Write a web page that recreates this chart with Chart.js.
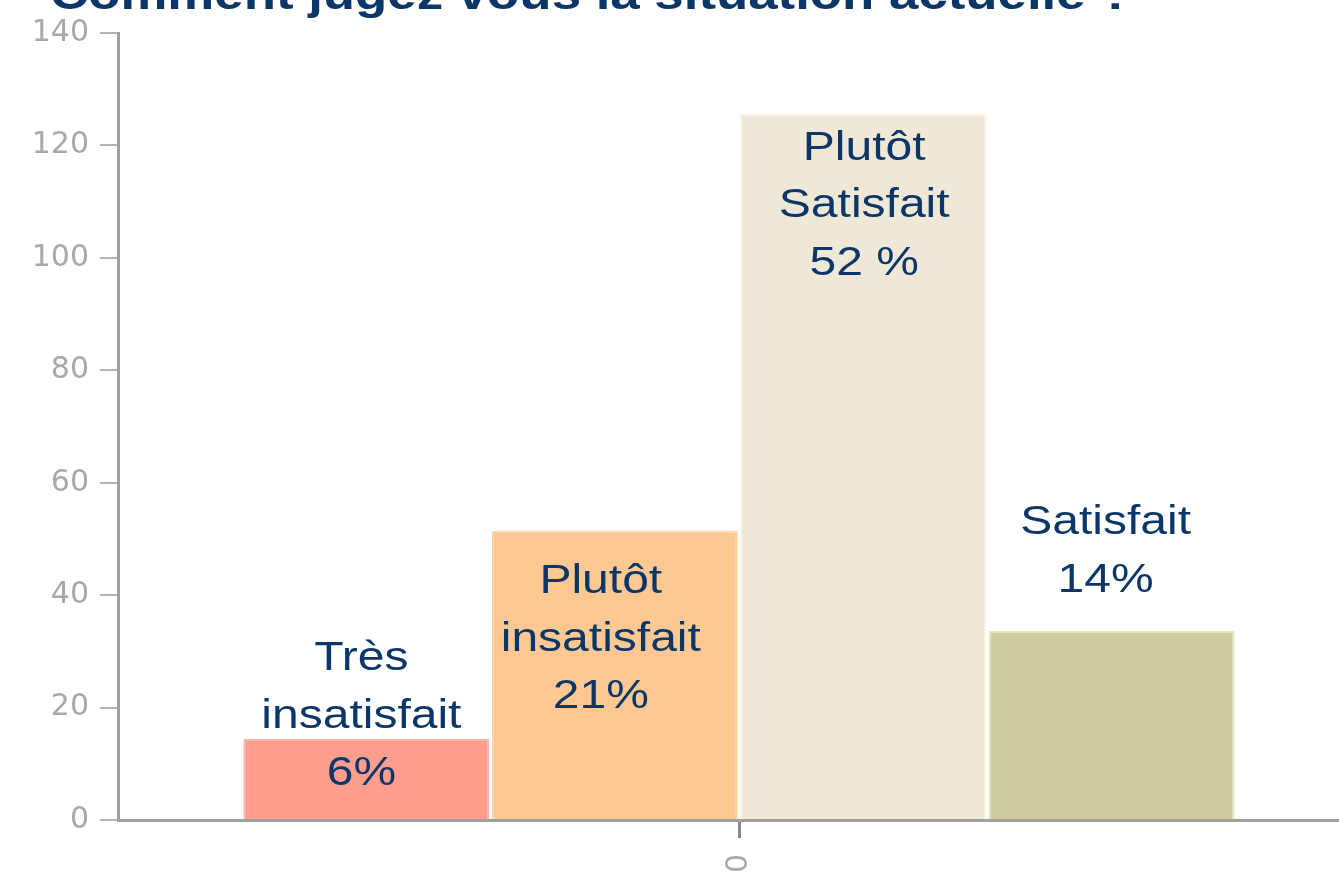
<!DOCTYPE html>
<html>
<head>
<meta charset="utf-8">
<script src="https://cdn.jsdelivr.net/npm/chart.js@4.4.1/dist/chart.umd.min.js"></script>
<style>
html, body { margin: 0; padding: 0; background: #ffffff; overflow: hidden; }
#wrap { position: absolute; left: 0; top: 0; width: 1360px; height: 873px; }
</style>
</head>
<body>
<div id="wrap"><canvas id="myChart"></canvas></div>
<script>
const chartTitle = "Comment jugez vous la situation actuelle ?";
const categories = ["0"];
const seriesNames = ["Très insatisfait", "Plutôt insatisfait", "Plutôt Satisfait", "Satisfait"];
const seriesValues = [14.4, 51.4, 125.6, 33.6];
const barTexts = [
    ["Très", "insatisfait", "6%"],
    ["Plutôt", "insatisfait", "21%"],
    ["Plutôt", "Satisfait", "52 %"],
    ["Satisfait", "14%"]
];
const yMax = 140;
const yStep = 20;

const fills = ["#ff9e8c", "#fec893", "#f0e8d7", "#cfcda0"];
const edges = ["#ffb4a4", "#ffd3a6", "#fbf4e3", "#e6e6bd"];
// text block position relative to bar centre / bar top (px)
const textShiftX = [-5, -14, 1, -6];
const textOffsets = [-80, 51, 35, -108];
const navy = "#0b3768";

/* ---------- plugins ---------- */

const titlePlugin = {
    id: "stretchedTitle",
    afterDraw(chart) {
        const c = chart.ctx;
        c.save();
        c.translate(50, 9);
        c.scale(1.2, 1);
        c.fillStyle = navy;
        c.font = "bold 44px 'Liberation Sans', Arial, sans-serif";
        c.textAlign = "left";
        c.textBaseline = "alphabetic";
        c.fillText(chartTitle, 0, 0);
        c.restore();
    }
};

const barTextPlugin = {
    id: "barText",
    afterDatasetsDraw(chart) {
        const c = chart.ctx;
        chart.data.datasets.forEach((ds, i) => {
            const el = chart.getDatasetMeta(i).data[0];
            if (!el) return;
            barTexts[i].forEach((line, k) => {
                c.save();
                c.translate(el.x + textShiftX[i], el.y + textOffsets[i] + k * 57.5);
                c.scale(1.2, 1);
                c.fillStyle = navy;
                c.font = "40px 'Liberation Sans', Arial, sans-serif";
                c.textAlign = "center";
                c.textBaseline = "middle";
                c.fillText(line, 0, 0);
                c.restore();
            });
        });
    }
};

/* ---------- chart ---------- */

const ctx = document.getElementById("myChart").getContext("2d");

new Chart(ctx, {
    type: "bar",
    data: {
        labels: categories,
        datasets: seriesNames.map((name, i) => ({
            label: name,
            data: [seriesValues[i]],
            backgroundColor: fills[i],
            borderColor: edges[i],
            borderWidth: 2,
            barPercentage: 0.99,
            categoryPercentage: 0.8
        }))
    },
    options: {
        responsive: true,
        maintainAspectRatio: false,
        animation: false,
        layout: { padding: { top: 33, left: 0, right: 0, bottom: 0 } },
        plugins: {
            legend: { display: false },
            tooltip: { enabled: false },
            title: { display: false }
        },
        scales: {
            x: {
                ticks: {
                    color: "#a8a8a8",
                    font: { family: "DejaVu Sans", size: 30 },
                    minRotation: 90,
                    maxRotation: 90,
                    padding: 16
                },
                grid: {
                    drawOnChartArea: false,
                    offset: false,
                    tickLength: 18,
                    color: "#8a8a8a",
                    lineWidth: 3
                },
                border: { color: "#a0a0a0", width: 3 },
                afterFit(scale) { scale.height = 53; }
            },
            y: {
                min: 0,
                max: yMax,
                ticks: {
                    stepSize: yStep,
                    color: "#a8a8a8",
                    font: { family: "DejaVu Sans", size: 30 },
                    padding: 11
                },
                grid: {
                    drawOnChartArea: false,
                    tickLength: 18,
                    color: "#b3b3b3",
                    lineWidth: 2
                },
                border: { color: "#a0a0a0", width: 3 },
                afterFit(scale) { scale.width = 118; }
            }
        }
    },
    plugins: [titlePlugin, barTextPlugin]
});
</script>
</body>
</html>
